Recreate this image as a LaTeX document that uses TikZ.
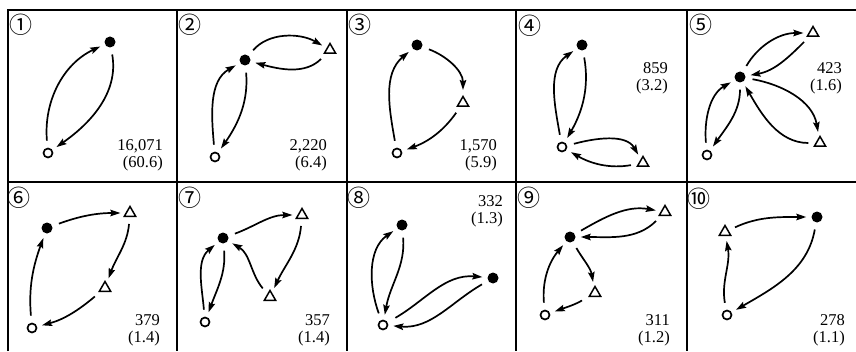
\documentclass[tikz,border=0pt]{standalone}
\usepackage{fontspec}
\setmainfont{Liberation Serif}
\newfontfamily\cjk{Noto Sans CJK JP}
\usetikzlibrary{arrows.meta,shapes.geometric}
\begin{document}
\begin{tikzpicture}[x=1pt,y=1pt,
  fdot/.style={circle,fill=black,minimum size=11pt,inner sep=0pt},
  odot/.style={circle,draw,line width=1.7pt,minimum size=9pt,inner sep=0pt},
  tri/.style={regular polygon,regular polygon sides=3,draw,line width=1.5pt,minimum size=13pt,inner sep=0pt},
  arr/.style={line width=1.7pt,-{Stealth[length=10pt,width=6.5pt,inset=1.5pt]},shorten <=7pt,shorten >=5pt},
  num/.style={font=\cjk\fontsize{23}{23}\selectfont,inner sep=0pt},
  val/.style={font=\fontsize{16.5}{16.5}\selectfont,anchor=base east,inner sep=0pt},
  gridline/.style={line width=1.3pt}]
\useasboundingbox (0,0) rectangle (856,351);
% frame
\draw[gridline] (8,0) -- (8,341) -- (856,341);
\draw[gridline] (8,169) -- (856,169);
\foreach \xx in {177,347,516,687} \draw[gridline] (\xx,341) -- (\xx,0);

% ---- panel 1
\node[num] (n1) at (21,326) {①};
\node[fdot] (a1) at (110,309) {};
\node[odot] (o1) at (48,198) {};
\draw[arr] (o1) to[out=95,in=205] (a1);
\draw[arr] (a1) to[out=-80,in=35] (o1);
\node[val] (v1a) at (163,200) {16,071};
\node[val] (v1b) at (163,183) {(60.6)};

% ---- panel 2
\node[num] (n2) at (190,326) {②};
\node[fdot] (a2) at (245,291) {};
\node[tri] (t2) at (330,301) {};
\node[odot] (o2) at (215,194) {};
\draw[arr] (a2) to[out=50,in=150] (t2);
\draw[arr] (t2) to[out=225,in=-15] (a2);
\draw[arr] (o2) to[out=95,in=210] (a2);
\draw[arr] (a2) to[out=-85,in=55] (o2);
\node[val] (v2a) at (327,200) {2,220};
\node[val] (v2b) at (327,183) {(6.4)};

% ---- panel 3
\node[num] (n3) at (360,326) {③};
\node[fdot] (a3) at (417,306) {};
\node[tri] (t3) at (463,248) {};
\node[odot] (o3) at (397,198) {};
\draw[arr] (a3) to[out=-20,in=90] (t3);
\draw[arr] (t3) to[out=235,in=20] (o3);
\draw[arr] (o3) to[out=100,in=220] (a3);
\node[val] (v3a) at (497,200) {1,570};
\node[val] (v3b) at (497,183) {(5.9)};

% ---- panel 4
\node[num] (n4) at (530,325) {④};
\node[fdot] (a4) at (582,306) {};
\node[odot] (o4) at (562,204) {};
\node[tri] (t4) at (643,188) {};
\draw[arr] (o4) to[out=100,in=215] (a4);
\draw[arr] (a4) to[out=-80,in=60] (o4);
\draw[arr] (o4) to[out=15,in=120] (t4);
\draw[arr] (t4) to[out=190,in=-30] (o4);
\node[val] (v4a) at (668,277) {859};
\node[val] (v4b) at (668,260) {(3.2)};

% ---- panel 5
\node[num] (n5) at (701,326) {⑤};
\node[fdot] (a5) at (740,274) {};
\node[tri] (t5a) at (813,318) {};
\node[tri] (t5b) at (820,208) {};
\node[odot] (o5) at (707,196) {};
\draw[arr] (a5) to[out=60,in=180] (t5a);
\draw[arr] (t5a) to[out=225,in=10] (a5);
\draw[arr] (a5) to[out=-10,in=100] (t5b);
\draw[arr] (t5b) to[out=180,in=-60] (a5);
\draw[arr] (o5) to[out=95,in=210] (a5);
\draw[arr] (a5) to[out=-90,in=55] (o5);
\node[val] (v5a) at (842,277) {423};
\node[val] (v5b) at (842,260) {(1.6)};

% ---- panel 6
\node[num] (n6) at (19,153) {⑥};
\node[fdot] (a6) at (47,123) {};
\node[tri] (t6a) at (130,138) {};
\node[tri] (t6b) at (105,63) {};
\node[odot] (o6) at (32,23) {};
\draw[arr] (a6) to[out=20,in=180] (t6a);
\draw[arr] (t6a) to[out=-95,in=70] (t6b);
\draw[arr] (t6b) to[out=220,in=15] (o6);
\draw[arr] (o6) to[out=95,in=250] (a6);
\node[val] (v6a) at (160,26) {379};
\node[val] (v6b) at (160,9) {(1.4)};

% ---- panel 7
\node[num] (n7) at (190,153) {⑦};
\node[fdot] (a7) at (223,113) {};
\node[tri] (t7a) at (302,136) {};
\node[tri] (t7b) at (270,54) {};
\node[odot] (o7) at (205,29) {};
\draw[arr] (a7) to[out=20,in=180] (t7a);
\draw[arr] (t7a) to[out=-95,in=65] (t7b);
\draw[arr] (t7b) to[out=130,in=-30] (a7);
\draw[arr] (o7) to[out=95,in=220] (a7);
\draw[arr] (a7) to[out=-85,in=70] (o7);
\node[val] (v7a) at (330,26) {357};
\node[val] (v7b) at (330,9) {(1.4)};

% ---- panel 8
\node[num] (n8) at (359,153) {⑧};
\node[fdot] (d8a) at (402,126) {};
\node[fdot] (d8b) at (493,73) {};
\node[odot] (o8) at (383,26) {};
\draw[arr] (o8) to[out=110,in=215] (d8a);
\draw[arr] (d8a) to[out=-85,in=80] (o8);
\draw[arr,shorten <=9pt] (o8) to[out=30,in=175] (d8b);
\draw[arr] (d8b) to[out=210,in=-5] (o8);
\node[val] (v8a) at (503,145) {332};
\node[val] (v8b) at (503,128) {(1.3)};

% ---- panel 9
\node[num] (n9) at (529,153) {⑨};
\node[fdot] (a9) at (570,114) {};
\node[tri] (t9a) at (665,139) {};
\node[tri] (t9b) at (595,58) {};
\node[odot] (o9) at (545,36) {};
\draw[arr] (a9) to[out=30,in=170] (t9a);
\draw[arr] (t9a) to[out=225,in=0] (a9);
\draw[arr] (a9) to[out=-60,in=100] (t9b);
\draw[arr] (t9b) to[out=210,in=20] (o9);
\draw[arr] (o9) to[out=95,in=230] (a9);
\node[val] (v9a) at (670,26) {311};
\node[val] (v9b) at (670,9) {(1.2)};

% ---- panel 10
\node[num] (n10) at (699,152) {⑩};
\node[tri] (t10) at (725,119) {};
\node[fdot] (d10) at (817,134) {};
\node[odot] (o10) at (727,36) {};
\draw[arr] (t10) to[out=25,in=180] (d10);
\draw[arr] (d10) to[out=-100,in=30] (o10);
\draw[arr] (o10) to[out=100,in=-80] (t10);
\node[val] (v10a) at (845,26) {278};
\node[val] (v10b) at (845,9) {(1.1)};
\end{tikzpicture}
\end{document}
